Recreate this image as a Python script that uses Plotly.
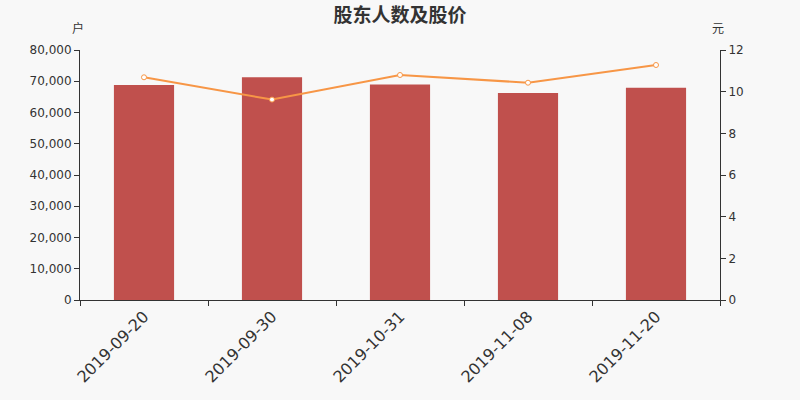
import plotly.graph_objects as go

dates = ["2019-09-20", "2019-09-30", "2019-10-31", "2019-11-08", "2019-11-20"]
holders = [68800, 71250, 69000, 66250, 67950]
price = [10.69, 9.62, 10.80, 10.43, 11.28]

font = "DejaVu Sans, Noto Sans CJK SC, sans-serif"
cjk = "Noto Sans CJK SC, sans-serif"

fig = go.Figure()
fig.add_trace(go.Bar(x=dates, y=holders, marker_color="#c0504d", marker_line_width=0,
                     width=0.47, name="股东人数"))
fig.add_trace(go.Scatter(x=dates, y=price, yaxis="y2", mode="lines+markers",
                         line=dict(color="#f79646", width=2),
                         marker=dict(symbol="circle", size=5, color="white",
                                     line=dict(color="#f79646", width=1)),
                         name="股价"))

fig.update_layout(
    width=800, height=400,
    paper_bgcolor="#f8f8f8", plot_bgcolor="#f8f8f8",
    margin=dict(l=80, r=80, t=50, b=100),
    showlegend=False,
    title=dict(text="<b>股东人数及股价</b>", x=0.5, xanchor="center", yref="container",
               y=0.962, yanchor="middle",
               font=dict(family=cjk, size=19, color="#333")),
    xaxis=dict(type="category", showline=True, linecolor="#333", ticks="outside",
               tickson="boundaries", ticklen=5, tickcolor="#333", tickangle=-45,
               tickfont=dict(family=font, size=16, color="#333"), showgrid=False),
    yaxis=dict(range=[0, 80000], dtick=10000, tickformat=",", showline=True, linecolor="#333",
               ticks="outside", ticklen=5, tickcolor="#333", showgrid=False, zeroline=False,
               tickfont=dict(family=font, size=12, color="#333")),
    yaxis2=dict(range=[0, 12], dtick=2, overlaying="y", side="right", showline=True,
                linecolor="#333", ticks="outside", ticklen=5, tickcolor="#333",
                showgrid=False, zeroline=False,
                tickfont=dict(family=font, size=12, color="#333")),
    annotations=[
        dict(text="户", xref="paper", yref="paper", x=-0.003, y=1.088, xanchor="center", yanchor="middle",
             showarrow=False, font=dict(family=cjk, size=12, color="#333")),
        dict(text="元", xref="paper", yref="paper", x=0.997, y=1.088, xanchor="center", yanchor="middle",
             showarrow=False, font=dict(family=cjk, size=12, color="#333")),
    ],
)

fig.write_html("out.html", config={"displayModeBar": False},
               post_script="document.body.style.margin='0';document.body.style.overflow='hidden';")
